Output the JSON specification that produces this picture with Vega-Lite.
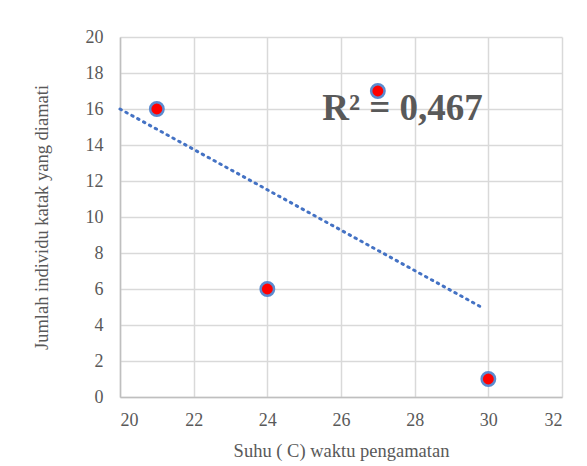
{
  "$schema": "https://vega.github.io/schema/vega-lite/v6.json",
  "width": 442,
  "height": 360,
  "autosize": "none",
  "padding": {"left": 120, "top": 37, "right": 25, "bottom": 69},
  "background": "white",
  "config": {
    "view": {"stroke": null}
  },
  "datasets": {
    "pts": [
      {"suhu": 21, "jumlah": 16},
      {"suhu": 24, "jumlah": 6},
      {"suhu": 27, "jumlah": 17},
      {"suhu": 30, "jumlah": 1}
    ],
    "trend": [
      {"suhu": 20, "jumlah": 16.0},
      {"suhu": 29.85, "jumlah": 4.95}
    ],
    "label": [
      {"suhu": 27.67, "jumlah": 16.0, "text": "R² = 0,467"}
    ]
  },
  "encoding": {
    "x": {"field": "suhu", "type": "quantitative", "scale": {"domain": [20, 32], "nice": false},
      "axis": {"values": [20,22,24,26,28,30,32], "title": "Suhu ( C) waktu pengamatan", "labelPadding": 14, "titlePadding": 12, "grid": true,
        "labelFont": "Liberation Serif", "titleFont": "Liberation Serif", "labelFontSize": 18, "titleFontSize": 18.5, "labelColor": "#595959", "titleColor": "#595959", "titleFontWeight": "normal",
        "gridColor": "#d9d9d9", "gridWidth": 1.5, "domainColor": "#bfbfbf", "domainWidth": 1.5, "ticks": false, "labelOverlap": false}},
    "y": {"field": "jumlah", "type": "quantitative", "scale": {"domain": [0, 20], "nice": false},
      "axis": {"values": [0,2,4,6,8,10,12,14,16,18,20], "title": "Jumlah individu katak yang diamati", "labelPadding": 17, "titlePadding": 34, "grid": true,
        "labelFont": "Liberation Serif", "titleFont": "Liberation Serif", "labelFontSize": 18, "titleFontSize": 18.5, "labelColor": "#595959", "titleColor": "#595959", "titleFontWeight": "normal",
        "gridColor": "#d9d9d9", "gridWidth": 1.5, "domainColor": "#bfbfbf", "domainWidth": 1.5, "ticks": false, "labelOverlap": false}}
  },
  "layer": [
    {
      "data": {"name": "trend"},
      "mark": {"type": "line", "color": "#4472C4", "strokeWidth": 3, "strokeDash": [1.5, 5.2], "strokeCap": "round"}
    },
    {
      "data": {"name": "pts"},
      "mark": {"type": "point", "filled": true, "fill": "#ff0000", "stroke": "#5b8bd0", "strokeWidth": 2.5, "size": 180, "opacity": 1}
    },
    {
      "data": {"name": "label"},
      "mark": {"type": "text", "font": "Liberation Serif", "fontSize": 37, "fontWeight": "bold", "color": "#595959", "align": "center", "baseline": "middle"},
      "encoding": {
        "text": {"field": "text"}
      }
    }
  ]
}
